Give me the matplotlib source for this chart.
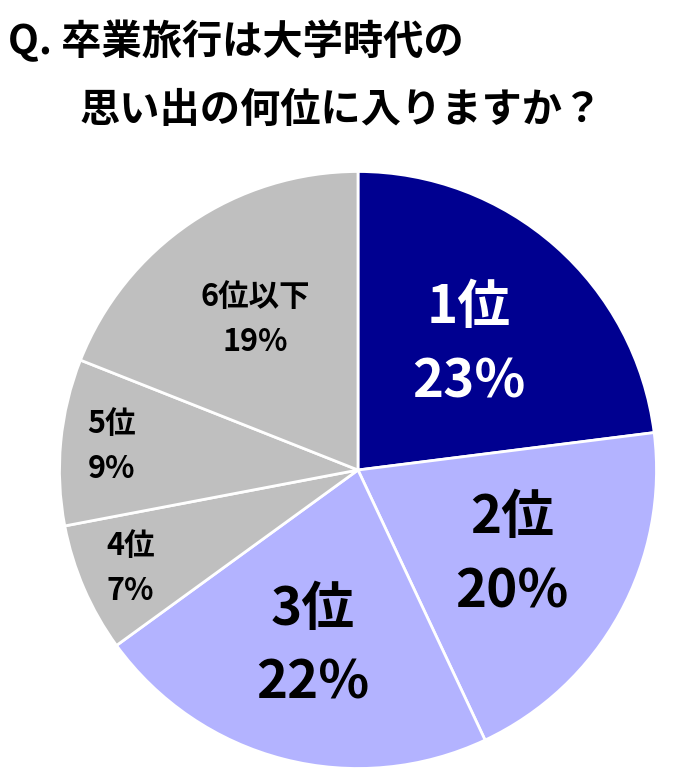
import matplotlib
matplotlib.use("Agg")
import matplotlib.pyplot as plt
import numpy as np

plt.rcParams['font.family'] = ['Noto Sans CJK JP', 'DejaVu Sans']

labels = ["1位", "2位", "3位", "4位", "5位", "6位以下"]
values = [23, 20, 22, 7, 9, 19]
colors = ["#000090", "#B3B3FF", "#B3B3FF", "#BFBFBF", "#BFBFBF", "#BFBFBF"]
text_colors = ["white", "black", "black", "black", "black", "black"]
label_r = [0.56, 0.59, 0.61, 0.83, 0.83, 0.61]
font_sizes = [38, 38, 38, 22, 22, 22]

fig = plt.figure(figsize=(6.88, 7.82), dpi=100)
ax = fig.add_axes([58/688, 12/782, 600/688, 600/782])
ax.pie(values, colors=colors, startangle=90, counterclock=False,
       wedgeprops=dict(edgecolor="white", linewidth=2))
ax.set_xlim(-1.005, 1.005)
ax.set_ylim(-1.005, 1.005)
ax.set_aspect("equal")

total = sum(values)
cum = 0
for lab, v, tc, r, fs in zip(labels, values, text_colors, label_r, font_sizes):
    mid = np.deg2rad(90 - (cum + v / 2) / total * 360)
    cum += v
    x, y = r * np.cos(mid), r * np.sin(mid)
    ax.text(x, y, f"{lab}\n{v}%", color=tc, fontsize=fs, fontweight="bold",
            ha="center", va="center", linespacing=1.5)

fig.text(8/688, 1 - 42/782, "Q. 卒業旅行は大学時代の", fontsize=29, fontweight="bold", va="center")
fig.text(80/688, 1 - 110/782, "思い出の何位に入りますか？", fontsize=29, fontweight="bold", va="center")

fig.savefig("out.png", dpi=100)
